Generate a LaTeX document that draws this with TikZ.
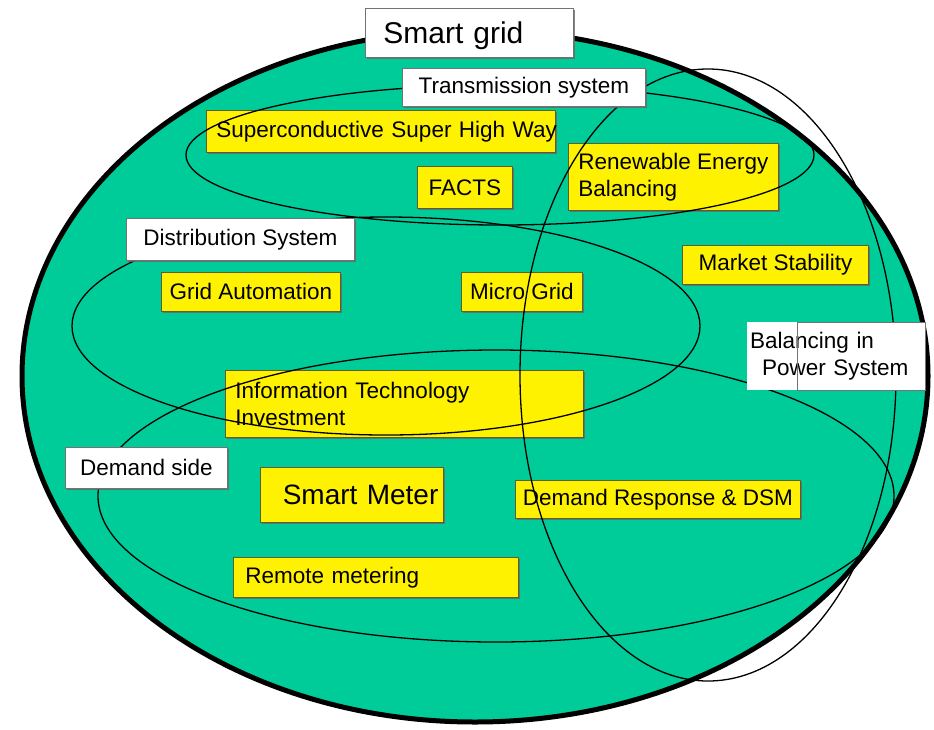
\documentclass[tikz,border=0pt]{standalone}
\usepackage{fontspec}
\setmainfont{Liberation Sans}
\usetikzlibrary{shadows}

\definecolor{gridgreen}{RGB}{0,204,153}
\definecolor{boxedge}{RGB}{95,95,45}

\tikzset{
  lbl/.style={inner sep=0pt, anchor=north west, text=black,
    font=\fontsize{22.5}{27}\selectfont},
  whitebox/.style={lbl, draw=black!55, fill=white, line width=0.8pt,
    drop shadow={shadow xshift=1.5pt, shadow yshift=-1.5pt, fill=black!60, opacity=.8}},
  yellowbox/.style={whitebox, draw=boxedge, fill=yellow},
  boxsize/.style 2 args={minimum width=#1pt, minimum height=#2pt},
  ring/.style={draw=black, line width=1.3pt}
}

\begin{document}
\begin{tikzpicture}[x=1pt, y=-1pt]
    \useasboundingbox (0,0) rectangle (934,729);
    % the whole smart grid
    \draw[line width=5pt, fill=gridgreen] (475,376) ellipse [x radius=453, y radius=346];

    \node[yellowbox, boxsize={349}{42}, text width=329pt, inner xsep=10pt, align=left]
      (highway) at (206,110) {\mbox{Superconductive Super High Way}};
    \node[yellowbox, boxsize={95}{42}] (facts) at (417,166) {FACTS};
    \node[yellowbox, boxsize={210}{67}, align=left] (renew) at (568,143) {Renewable Energy\\Balancing};
    \node[yellowbox, boxsize={179}{39}] (autom) at (161,272) {Grid Automation};
    \node[yellowbox, boxsize={121}{39}] (micro) at (461,272) {Micro Grid};
    \node[yellowbox, boxsize={186}{39}] (market) at (682,245) {Market Stability};
    \node[yellowbox, boxsize={358}{67}, text width=338pt, inner xsep=10pt, align=left]
      (infotech) at (225,370) {Information Technology\\Investment};
    \node[yellowbox, boxsize={183}{55}, text width=173pt, inner xsep=5pt, align=right,
      font=\fontsize{28}{32}\selectfont] (meter) at (260,467) {Smart Meter};
    \node[yellowbox, boxsize={285}{38}] (response) at (515,480) {Demand Response \& DSM};
    \node[yellowbox, boxsize={281}{40}, text width=261pt, inner xsep=12pt, align=left]
      (remote) at (233,557) {Remote metering};

    % transmission, distribution, demand side, balancing
    \foreach \cx/\cy/\rx/\ry in {500/155/314/70, 386/326/314/109, 496/496/398/146, 708/375/188/306}
    {
      \draw[ring] (\cx,\cy) ellipse [x radius=\rx, y radius=\ry];
    }

    \node[whitebox, boxsize={208}{49}, text width=172pt, inner xsep=18pt, align=left,
      font=\fontsize{30}{34}\selectfont, text depth=0pt] (smartgrid) at (365,8) {Smart grid};
    \node[whitebox, boxsize={243}{38}] (transm) at (402,68) {Transmission system};
    \node[whitebox, boxsize={228}{42}] (distrib) at (126,218) {Distribution System};
    \node[whitebox, boxsize={162}{41}] (demand) at (65,447) {Demand side};
    \node[lbl, fill=white, boxsize={178}{68}, text width=172pt, inner xsep=3pt, align=left]
      (balance) at (747,322) {Balancing in\\\hspace*{12pt}Power System};
    \draw[draw=black!55, line width=0.8pt] ([xshift=50pt]balance.north west) rectangle (balance.south east);
\end{tikzpicture}
\end{document}
